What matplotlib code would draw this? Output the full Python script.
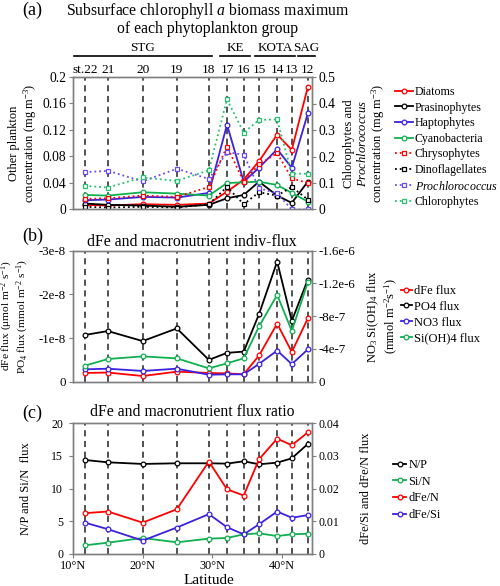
import matplotlib
matplotlib.use('Agg')
import matplotlib.pyplot as plt
import matplotlib.transforms as mtransforms

plt.rcParams['font.family'] = ['Liberation Serif', 'DejaVu Serif']
plt.rcParams['mathtext.fontset'] = 'custom'
plt.rcParams['mathtext.rm'] = 'Liberation Serif'
plt.rcParams['mathtext.it'] = 'Liberation Serif:italic'

# ---------------- datos ----------------
stations = ['st.22', '21', '20', '19', '18', '17', '16', '15', '14', '13', '12']
lat = [11.7, 15.0, 20.0, 24.9, 29.5, 32.1, 34.5, 36.7, 39.3, 41.4, 43.7]

# (a) eje izquierdo (mg m-3)
diatoms = [0.007, 0.006, 0.008, 0.007, 0.009, 0.027, 0.045, 0.073, 0.113, 0.090, 0.185]
prasino = [0.009, 0.007, 0.006, 0.004, 0.007, 0.017, 0.022, 0.042, 0.021, 0.010, 0.042]
hapto = [0.014, 0.015, 0.019, 0.018, 0.025, 0.128, 0.042, 0.063, 0.091, 0.063, 0.145]
cyano = [0.022, 0.021, 0.026, 0.024, 0.021, 0.040, 0.041, 0.042, 0.037, 0.025, 0.012]
chryso = [0.016, 0.017, 0.021, 0.019, 0.034, 0.095, 0.042, 0.068, 0.085, 0.047, 0.040]
dino = [0.004, 0.003, 0.004, 0.003, 0.008, 0.034, 0.008, 0.026, 0.021, 0.034, 0.015]
# (a) eje derecho
proch = [0.141, 0.146, 0.106, 0.154, 0.115, 0.216, 0.207, 0.080, 0.061, 0.0, 0.0]
chloro = [0.089, 0.083, 0.121, 0.108, 0.148, 0.416, 0.290, 0.338, 0.340, 0.135, 0.135]

# (b) flujos (negativos, eje invertido)
dfe_flux = [-0.20e-8, -0.21e-8, -0.13e-8, -0.23e-8, -0.20e-8, -0.19e-8, -0.17e-8,
            -0.60e-8, -1.33e-8, -0.68e-8, -1.45e-8]
po4_flux = [-1.07e-8, -1.16e-8, -0.93e-8, -1.22e-8, -0.50e-8, -0.66e-8, -0.69e-8,
            -1.55e-8, -2.75e-8, -1.39e-8, -2.34e-8]
no3_flux = [-1.51e-7, -1.59e-7, -1.31e-7, -1.59e-7, -0.85e-7, -0.90e-7, -0.90e-7,
            -2.18e-7, -3.80e-7, -2.15e-7, -3.94e-7]
si_flux = [-1.95e-7, -2.77e-7, -3.09e-7, -2.85e-7, -1.63e-7, -2.24e-7, -2.86e-7,
           -6.75e-7, -10.6e-7, -6.20e-7, -12.15e-7]

# (c) razones
np_ratio = [14.39, 14.03, 13.78, 13.88, 13.88, 13.83, 14.19, 13.73, 13.98, 14.64, 16.84]
sin_ratio = [1.33, 1.73, 2.45, 1.79, 2.35, 2.45, 3.01, 3.16, 2.75, 3.01, 3.11]
dfen_ratio = [0.0125, 0.0130, 0.0096, 0.0137, 0.0283, 0.0198, 0.0179, 0.0290, 0.0353, 0.0333, 0.0372]
dfesi_ratio = [0.0096, 0.0076, 0.0041, 0.0081, 0.0122, 0.0082, 0.0060, 0.0091, 0.0130, 0.0111, 0.0119]

regions = ['STG', 'KE', 'KOTA', 'SAG']
region_span = [(10.1, 29.9), (31.1, 35.4), (36.1, 41.9), (42.3, 44.7)]

# colores
RED = '#ff0000'
BLK = '#000000'
BLU = '#3a22e0'
GRN = '#10b050'
BLU2 = '#6a4cf0'
GRN2 = '#28c070'

W, H = 500, 586
fig = plt.figure(figsize=(W / 100, H / 100), dpi=100)


def caja(top, bottom, left=73, right=312):
    return [left / W, 1 - bottom / H, (right - left) / W, (bottom - top) / H]


def estilo(ax, fs):
    for s in ax.spines.values():
        s.set_color('#7f7f7f')
        s.set_linewidth(1.0)
    ax.tick_params(direction='out', length=3, width=0.8, color='#7f7f7f',
                   labelsize=fs, pad=2)


def linea(ax, y, c, lab, ls='-', mk='o'):
    ax.plot(lat, y, color=c, ls=ls, lw=1.3, marker=mk, ms=3.4, mfc='white',
            mec=c, mew=0.9, label=lab)


def verticales(ax):
    for x in lat:
        ax.axvline(x, color='#222222', ls=(0, (4, 3)), lw=1.1, zorder=0)


XMIN, XMAX = 10, 44.3
AW = 239  # ancho del eje en px

# ---------------- panel (a) ----------------
axa = fig.add_axes(caja(77, 209.5))
axa2 = axa.twinx()
verticales(axa)
linea(axa, diatoms, RED, 'Diatoms')
linea(axa, prasino, BLK, 'Prasinophytes')
linea(axa, hapto, BLU, 'Haptophytes')
linea(axa, cyano, GRN, 'Cyanobacteria')
linea(axa, chryso, RED, 'Chrysophytes', ':', 's')
linea(axa, dino, BLK, 'Dinoflagellates', ':', 's')
linea(axa2, proch, BLU2, r'$\it{Prochlorococcus}$', ':', 's')
linea(axa2, chloro, GRN2, 'Chlorophytes', ':', 's')
axa.set_xlim(XMIN, XMAX)
axa.set_ylim(0, 0.2)
axa2.set_ylim(0, 0.5)
axa.set_yticks([0, 0.04, 0.08, 0.12, 0.16, 0.2])
axa.set_yticklabels(['0', '0.04', '0.08', '0.12', '0.16', '0.2'])
axa2.set_yticks([0, 0.1, 0.2, 0.3, 0.4, 0.5])
axa2.set_yticklabels(['0', '0.1', '0.2', '0.3', '0.4', '0.5'])
for a in (axa, axa2):
    estilo(a, 9.8)
    a.tick_params(axis='x', length=0, labelbottom=False)
# etiqueta izquierda: coordenada = borde derecho; derecha: borde izquierdo
axa.set_ylabel('Other plankton\nconcentration (mg m$^{-3}$)', fontsize=9, linespacing=1.1)
axa.yaxis.set_label_coords((39 - 73) / AW, 0.5)
axa2.set_ylabel('Chlorophytes and\n$\\it{Prochlorococcus}$\nconcentration (mg m$^{-3}$)',
                fontsize=9, linespacing=1.05)
axa2.yaxis.set_label_coords((343 - 73) / AW, 0.5)

tr = mtransforms.blended_transform_factory(axa.transData, axa.transAxes)
for x, s in zip(lat, stations):
    axa.text(x, 1.055, s, transform=tr, ha='center', va='center', fontsize=9.6)
for r, (x0, x1) in zip(regions, region_span):
    axa.plot([x0, x1], [1.158, 1.158], transform=tr, color='k', lw=1.2, clip_on=False)
    axa.text((x0 + x1) / 2, 1.172, r, transform=tr, ha='center', va='bottom', fontsize=9.4)

h1, l1 = axa.get_legend_handles_labels()
h2, l2 = axa2.get_legend_handles_labels()
fig.legend(h1 + h2, l1 + l2, loc='upper left', bbox_to_anchor=(395 / W, 1 - 86 / H),
           frameon=False, fontsize=8.6, handlelength=1.5, handletextpad=0.15,
           labelspacing=0.3, borderpad=0, borderaxespad=0)

fig.text(208 / W, 1 - 15 / H, 'Subsurface chlorophyll $\\it{a}$ biomass maximum',
         ha='center', va='baseline', fontsize=11.3)
fig.text(208 / W, 1 - 33 / H, 'of each phytoplankton group', ha='center',
         va='baseline', fontsize=11.3)
fig.text(22 / W, 1 - 15 / H, '(a)', ha='left', va='baseline', fontsize=13)

# ---------------- panel (b) ----------------
axb = fig.add_axes(caja(250.7, 381.7))
axb2 = axb.twinx()
verticales(axb)
linea(axb, dfe_flux, RED, 'dFe flux')
linea(axb, po4_flux, BLK, 'PO4 flux')
linea(axb2, no3_flux, BLU, 'NO3 flux')
linea(axb2, si_flux, GRN, 'Si(OH)4 flux')
axb.set_xlim(XMIN, XMAX)
axb.set_ylim(0, -3e-8)
axb2.set_ylim(0, -1.6e-6)
axb.set_yticks([0, -1e-8, -2e-8, -3e-8])
axb.set_yticklabels(['0', '-1e-8', '-2e-8', '-3e-8'])
axb2.set_yticks([0, -4e-7, -8e-7, -1.2e-6, -1.6e-6])
axb2.set_yticklabels(['0', '-4e-7', '-8e-7', '-1.2e-6', '-1.6e-6'])
for a in (axb, axb2):
    estilo(a, 9.3)
    a.tick_params(axis='x', length=0, labelbottom=False)
axb.set_ylabel('dFe flux (μmol m$^{-2}$ s$^{-1}$)\nPO$_4$ flux (mmol m$^{-2}$ s$^{-1}$)',
               fontsize=8.2, linespacing=0.95)
axb.yaxis.set_label_coords((31 - 73) / AW, 0.5)
axb2.set_ylabel('NO$_3$ Si(OH)$_4$ flux\n(mmol m$^{-2}$s$^{-1}$)', fontsize=9, linespacing=1.1)
axb2.yaxis.set_label_coords((366 - 73) / AW, 0.5)
h1, l1 = axb.get_legend_handles_labels()
h2, l2 = axb2.get_legend_handles_labels()
fig.legend(h1 + h2, l1 + l2, loc='upper left', bbox_to_anchor=(401 / W, 1 - 285 / H),
           frameon=False, fontsize=9, handlelength=0.85, handletextpad=0.15,
           labelspacing=0.3, borderpad=0, borderaxespad=0)
fig.text(192 / W, 1 - 242 / H, 'dFe and macronutrient indiv-flux', ha='center',
         va='center', fontsize=11.3)
fig.text(22 / W, 1 - 236 / H, '(b)', ha='left', va='center', fontsize=13)

# ---------------- panel (c) ----------------
axc = fig.add_axes(caja(423.3, 554))
axc2 = axc.twinx()
verticales(axc)
linea(axc, np_ratio, BLK, 'N/P')
linea(axc, sin_ratio, GRN, 'Si/N')
linea(axc2, dfen_ratio, RED, 'dFe/N')
linea(axc2, dfesi_ratio, BLU, 'dFe/Si')
axc.set_xlim(XMIN, XMAX)
axc.set_ylim(0, 20)
axc2.set_ylim(0, 0.04)
axc.set_yticks([0, 5, 10, 15, 20])
axc2.set_yticks([0, 0.01, 0.02, 0.03, 0.04])
axc2.set_yticklabels(['0', '0.01', '0.02', '0.03', '0.04'])
axc.set_xticks([10, 20, 30, 40])
axc.set_xticklabels(['10°N', '20°N', '30°N', '40°N'])
for a in (axc, axc2):
    estilo(a, 8.5)
axc.tick_params(axis='x', labelsize=8.8, pad=1)
axc.tick_params(axis='y', pad=4)
axc.set_ylabel('N/P and Si/N  flux', fontsize=9)
axc.yaxis.set_label_coords((32 - 73) / AW, 0.5)
axc2.set_ylabel('dFe/Si and dFe/N flux', fontsize=9)
axc2.yaxis.set_label_coords((360 - 73) / AW, 0.5)
h1, l1 = axc.get_legend_handles_labels()
h2, l2 = axc2.get_legend_handles_labels()
fig.legend(h1 + h2, l1 + l2, loc='upper left', bbox_to_anchor=(393 / W, 1 - 459 / H),
           frameon=False, fontsize=8.8, handlelength=1.1, handletextpad=0.15,
           labelspacing=0.38, borderpad=0, borderaxespad=0)
fig.text(192 / W, 1 - 412 / H, 'dFe and macronutrient flux ratio', ha='center',
         va='center', fontsize=11.3)
fig.text(22 / W, 1 - 413 / H, '(c)', ha='left', va='center', fontsize=13)
fig.text(209 / W, 1 - 584 / H, 'Latitude', ha='center', va='baseline', fontsize=11)

fig.savefig('out.png', dpi=100)
